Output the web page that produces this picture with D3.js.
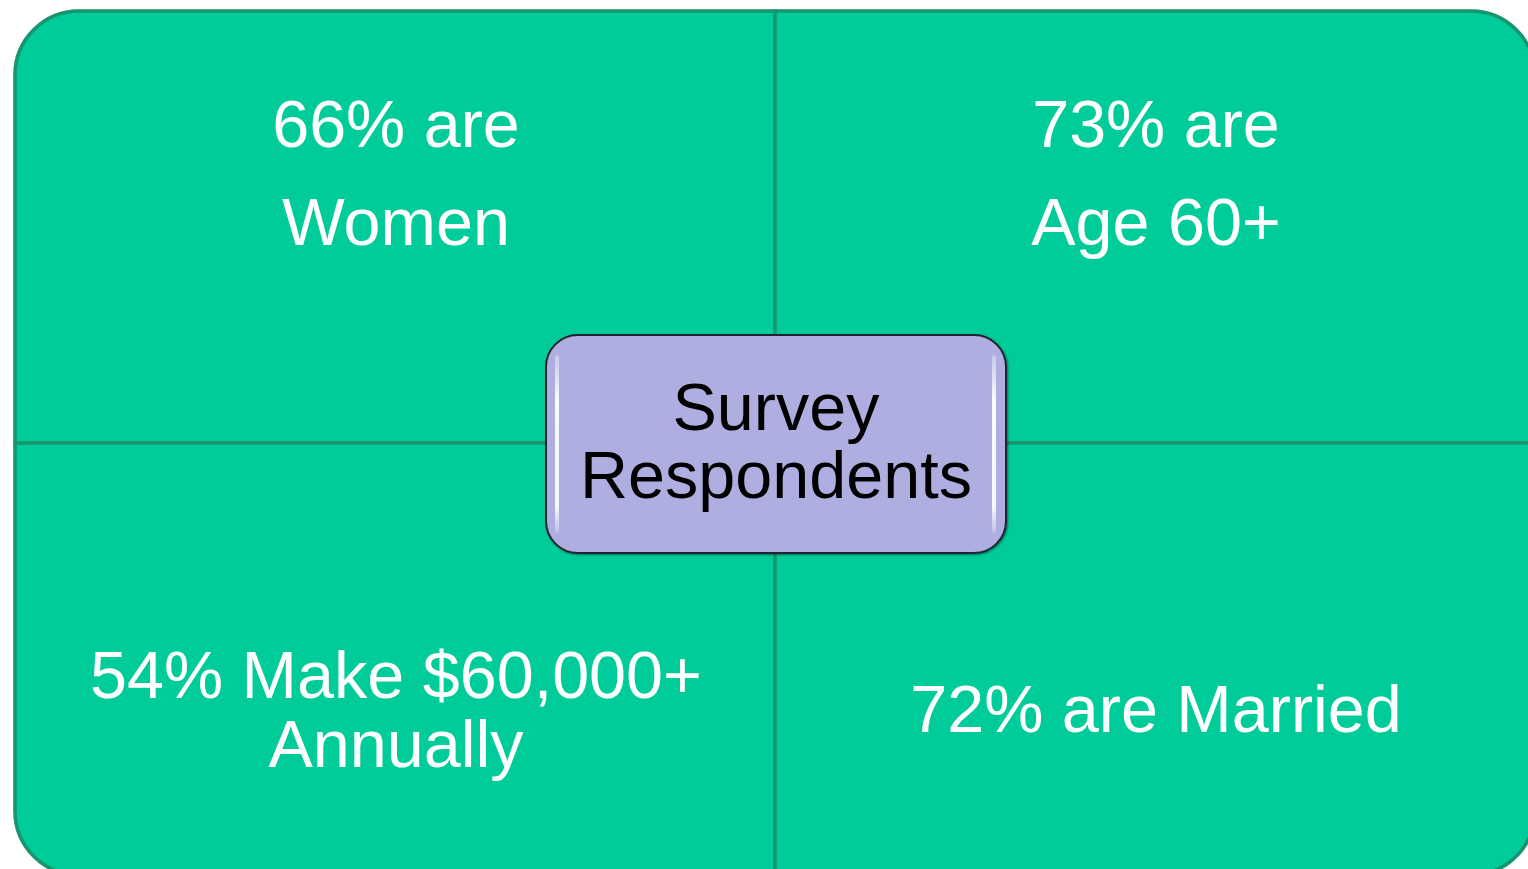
<!DOCTYPE html>
<html>
<head>
<meta charset="utf-8">
<script src="https://cdn.jsdelivr.net/npm/d3@7"></script>
<style>
  body { margin: 0; background: #ffffff; }
  svg { display: block; }
  text { font-family: "Liberation Sans", Arial, sans-serif; }
</style>
</head>
<body>
<svg id="matrix" width="1528" height="869"></svg>
<script>
// quadrant labels, row-major order (top-left, top-right, bottom-left, bottom-right)
var quadrantCols = [0, 1, 0, 1];
var quadrantRows = [0, 0, 1, 1];
var quadrantLines = [
    ["66% are", "Women"],
    ["73% are", "Age 60+"],
    ["54% Make $60,000+", "Annually"],
    ["72% are Married"]
];
var centerLines = ["Survey", "Respondents"];

var svg = d3.select("#matrix");

// global constants
var fillColor = "#00CC99";
var edgeColor = "#12956F";
var radius = 64;
var fontSize = 66.5;

var x = d3.scaleBand().domain([0, 1]).range([15, 1535]);
var y = d3.scaleBand().domain([0, 1]).range([11, 875]);

var defs = svg.append("defs");
var shadow = defs.append("filter").attr("id", "shadow")
    .attr("x", "-5%").attr("y", "-5%").attr("width", "110%").attr("height", "110%");
shadow.append("feDropShadow")
    .attr("dx", 0).attr("dy", 0).attr("stdDeviation", 0.7)
    .attr("flood-color", "#777").attr("flood-opacity", 0.45);

var boxShadow = defs.append("filter").attr("id", "boxShadow")
    .attr("x", "-5%").attr("y", "-5%").attr("width", "110%").attr("height", "110%");
boxShadow.append("feDropShadow")
    .attr("dx", 1).attr("dy", 1).attr("stdDeviation", 1)
    .attr("flood-color", "#000").attr("flood-opacity", 0.45);

var shine = defs.append("linearGradient").attr("id", "shine")
    .attr("x1", 0).attr("y1", 0).attr("x2", 0).attr("y2", 1);
shine.append("stop").attr("offset", "0%").attr("stop-color", "#fff").attr("stop-opacity", 0.3);
shine.append("stop").attr("offset", "25%").attr("stop-color", "#fff").attr("stop-opacity", 0.95);
shine.append("stop").attr("offset", "85%").attr("stop-color", "#fff").attr("stop-opacity", 0.9);
shine.append("stop").attr("offset", "100%").attr("stop-color", "#fff").attr("stop-opacity", 0.2);

// path for one quadrant, only the outer corner is rounded
function quadrantPath(c, r) {
    var x0 = x(c), x1 = x(c) + x.bandwidth();
    var y0 = y(r), y1 = y(r) + y.bandwidth();
    var p = d3.path();
    if (c === 0 && r === 0) {
        p.moveTo(x0, y0 + radius); p.arcTo(x0, y0, x0 + radius, y0, radius);
        p.lineTo(x1, y0); p.lineTo(x1, y1); p.lineTo(x0, y1);
    } else if (c === 1 && r === 0) {
        p.moveTo(x0, y0); p.lineTo(x1 - radius, y0); p.arcTo(x1, y0, x1, y0 + radius, radius);
        p.lineTo(x1, y1); p.lineTo(x0, y1);
    } else if (c === 0 && r === 1) {
        p.moveTo(x0, y0); p.lineTo(x1, y0); p.lineTo(x1, y1);
        p.lineTo(x0 + radius, y1); p.arcTo(x0, y1, x0, y1 - radius, radius);
    } else {
        p.moveTo(x0, y0); p.lineTo(x1, y0); p.lineTo(x1, y1 - radius);
        p.arcTo(x1, y1, x1 - radius, y1, radius); p.lineTo(x0, y1);
    }
    p.closePath();
    return p.toString();
}

var region = svg.selectAll("g.quadrant")
    .data(quadrantLines)
    .enter().append("g")
    .attr("class", "quadrant");

region.append("path")
    .attr("d", function(d, i) { return quadrantPath(quadrantCols[i], quadrantRows[i]); })
    .attr("fill", fillColor)
    .attr("stroke", edgeColor)
    .attr("stroke-width", 3.5)
    .attr("filter", "url(#shadow)");

// top row text hangs from the top, bottom row text is centred on one baseline
region.each(function(lines, i) {
    var c = quadrantCols[i], r = quadrantRows[i];
    var cx = x(c) + x.bandwidth() / 2 + 1;
    var gap = r === 0 ? 98 : 69;
    var first = r === 0 ? y(r) + 136 : y(r) + 289 - gap * (lines.length - 1) / 2;
    d3.select(this).selectAll("text")
        .data(lines)
        .enter().append("text")
        .attr("x", cx)
        .attr("y", function(d, j) { return first + j * gap; })
        .attr("text-anchor", "middle")
        .attr("fill", "white")
        .style("font-size", fontSize + "px")
        .text(function(d) { return d; });
});

// centre box
var boxW = 460, boxH = 218;
var bx = x(1) - boxW / 2 + 1, by = y(1) - boxH / 2 + 1;
var center = svg.append("g").attr("class", "center");

center.append("rect")
    .attr("x", bx).attr("y", by)
    .attr("width", boxW).attr("height", boxH)
    .attr("rx", 32)
    .attr("fill", "#AEAEE0")
    .attr("stroke", "#222230")
    .attr("stroke-width", 2)
    .attr("filter", "url(#boxShadow)");

// glossy highlights along the left and right inner edges
center.selectAll("rect.shine")
    .data([bx + 9, bx + boxW - 14])
    .enter().append("rect")
    .attr("class", "shine")
    .attr("x", function(d) { return d; })
    .attr("y", by + 20)
    .attr("width", 4)
    .attr("height", boxH - 40)
    .attr("rx", 2)
    .attr("fill", "url(#shine)");

center.selectAll("text")
    .data(centerLines)
    .enter().append("text")
    .attr("x", bx + boxW / 2)
    .attr("y", function(d, j) { return by + boxH / 2 + 20 - 34 + j * 68; })
    .attr("text-anchor", "middle")
    .attr("fill", "black")
    .style("font-size", fontSize + "px")
    .text(function(d) { return d; });
</script>
</body>
</html>
